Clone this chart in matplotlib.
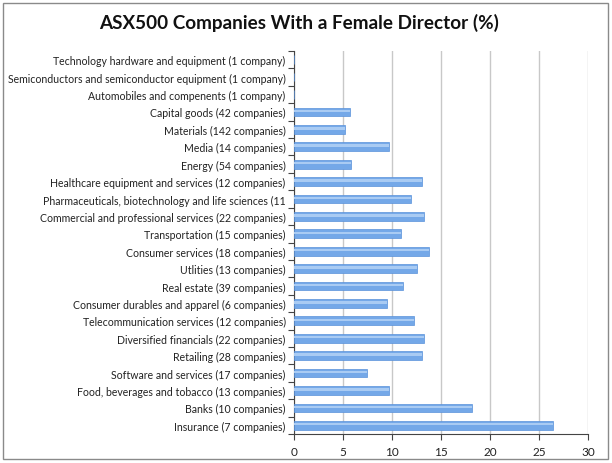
import matplotlib
matplotlib.use("Agg")
import matplotlib.pyplot as plt
from matplotlib.patches import Rectangle
import numpy as np

categories = [
    "Technology hardware and equipment (1 company)",
    "Semiconductors and semiconductor equipment (1 company)",
    "Automobiles and compenents (1 company)",
    "Capital goods (42 companies)",
    "Materials (142 companies)",
    "Media (14 companies)",
    "Energy (54 companies)",
    "Healthcare equipment and services (12 companies)",
    "Pharmaceuticals, biotechnology and life sciences (11",
    "Commercial and professional services (22 companies)",
    "Transportation (15 companies)",
    "Consumer services (18 companies)",
    "Utlities (13 companies)",
    "Real estate (39 companies)",
    "Consumer durables and apparel (6 companies)",
    "Telecommunication services (12 companies)",
    "Diversified financials (22 companies)",
    "Retailing (28 companies)",
    "Software and services (17 companies)",
    "Food, beverages and tobacco (13 companies)",
    "Banks (10 companies)",
    "Insurance (7 companies)",
]
values = [0, 0, 0, 5.7, 5.25, 9.7, 5.8, 13.1, 11.9, 13.3, 10.9, 13.8, 12.55,
          11.1, 9.45, 12.25, 13.25, 13.05, 7.45, 9.7, 18.2, 26.4]
xticks = [0, 5, 10, 15, 20, 25, 30]
title = "ASX500 Companies With a Female Director (%)"

plt.rcParams['font.family'] = ['Lato', 'DejaVu Sans']

fig = plt.figure(figsize=(6.12, 4.64), dpi=100)
fig.patch.set_facecolor("white")
fig.patches.append(Rectangle((3/612, 4/464), 605/612, 456/464, transform=fig.transFigure,
                             fill=False, edgecolor="#8a8a8a", linewidth=1.0))

ax = fig.add_axes([294/612, (464-435)/464, (588-294)/612, (435-52)/464])
y = np.arange(len(categories))
ax.barh(y, values, height=0.5, color="#74a8e8", edgecolor="#5a92da", linewidth=0.5, zorder=3)
# light highlight band for the glossy look
ax.barh(y - 0.06, values, height=0.14, color="#a9cbf3", linewidth=0, zorder=4)
ax.set_ylim(len(categories) - 0.5, -0.5)
ax.set_xlim(0, 30)
ax.set_xticks(xticks)
ax.set_xticklabels([str(t) for t in xticks], fontsize=8.5, color="#222222")
ax.set_yticks(y)
ax.set_yticklabels(categories, fontsize=7.6, color="#222222")
ax.tick_params(axis='y', length=0, pad=6)
ax.set_yticks(np.arange(-0.5, len(categories) + 0.5, 1), minor=True)
ax.tick_params(axis='y', which='minor', length=4, width=0.8, color="#444444")
ax.tick_params(axis='x', length=4, width=0.8, color="#444444", pad=5)
ax.grid(axis='x', color="#c8c8c8", linewidth=1.0, zorder=0)
ax.spines['top'].set_visible(False)
ax.spines['right'].set_visible(False)
ax.spines['left'].set_color("#444444")
ax.spines['bottom'].set_color("#444444")
ax.spines['left'].set_linewidth(0.8)
ax.spines['bottom'].set_linewidth(0.8)

fig.text(299/612, 1 - 23/464, title, ha='center', va='center', fontsize=13.6,
         fontweight='bold', color="#111111")

fig.savefig("out.png", dpi=100)
